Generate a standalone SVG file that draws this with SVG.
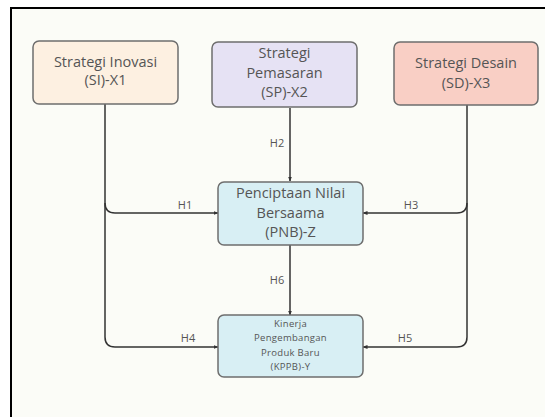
<svg xmlns="http://www.w3.org/2000/svg" width="545" height="417" viewBox="0 0 545 417">
<defs>
<style>
.box{stroke:#6e6e6e;stroke-width:1.5}
.t{font-family:"Open Sans","Noto Sans",sans-serif;font-size:14.5px;fill:#555;text-anchor:middle}
.ts{font-family:"Open Sans","Noto Sans",sans-serif;font-size:9.5px;fill:#555;text-anchor:middle;letter-spacing:0.3px}
.lb{font-family:"Open Sans","Noto Sans",sans-serif;font-size:11px;fill:#555;text-anchor:middle}
.c{fill:none;stroke:#333;stroke-width:1.5}
</style>
<marker id="ah" viewBox="0 0 10 10" refX="9" refY="5" markerWidth="5" markerHeight="5" orient="auto" markerUnits="userSpaceOnUse">
<path d="M0,1 L10,5 L0,9 z" fill="#333"/>
</marker>
</defs>
<rect x="0" y="0" width="545" height="417" fill="#ffffff"/>
<rect x="11" y="8" width="560" height="440" fill="#fbfcf7" stroke="#000" stroke-width="2"/>
<g id="connectors">
<path class="c" d="M290,108 V181" marker-end="url(#ah)"/>
<path class="c" d="M290,245 V315" marker-end="url(#ah)"/>
<path class="c" d="M105,103 V337 Q105,347 115,347 H218" marker-end="url(#ah)"/>
<path class="c" d="M105,203 Q105,213 115,213 H218" marker-end="url(#ah)"/>
<path class="c" d="M467,105 V337 Q467,347 457,347 H363" marker-end="url(#ah)"/>
<path class="c" d="M467,203 Q467,213 457,213 H363" marker-end="url(#ah)"/>
<text class="lb" x="185" y="209">H1</text>
<text class="lb" x="277" y="147">H2</text>
<text class="lb" x="411" y="209">H3</text>
<text class="lb" x="188" y="342">H4</text>
<text class="lb" x="405" y="342">H5</text>
<text class="lb" x="277" y="284">H6</text>
</g>
<g id="SI">
<rect class="box" x="33" y="41" width="145" height="63" rx="6" fill="#fdf0e1"/>
<text class="t" x="105.5" y="67">Strategi Inovasi</text>
<text class="t" x="105.5" y="85">(SI)-X1</text>
</g>
<g id="SP">
<rect class="box" x="212" y="42" width="145" height="65" rx="6" fill="#e6e2f4"/>
<text class="t" x="284.5" y="58">Strategi</text>
<text class="t" x="284.5" y="78">Pemasaran</text>
<text class="t" x="284.5" y="97">(SP)-X2</text>
</g>
<g id="SD">
<rect class="box" x="394" y="42" width="144" height="63" rx="6" fill="#f9cfc5"/>
<text class="t" x="466" y="68">Strategi Desain</text>
<text class="t" x="466" y="88">(SD)-X3</text>
</g>
<g id="PNB">
<rect class="box" x="218" y="182" width="145" height="63" rx="6" fill="#d8eff4"/>
<text class="t" x="290.5" y="198">Penciptaan Nilai</text>
<text class="t" x="290.5" y="218">Bersaama</text>
<text class="t" x="290.5" y="237">(PNB)-Z</text>
</g>
<g id="KPPB">
<rect class="box" x="218" y="315" width="145" height="62" rx="6" fill="#d8eff4"/>
<text class="ts" x="290.5" y="327">Kinerja</text>
<text class="ts" x="290.5" y="341">Pengembangan</text>
<text class="ts" x="290.5" y="356">Produk Baru</text>
<text class="ts" x="290.5" y="370">(KPPB)-Y</text>
</g>
</svg>
